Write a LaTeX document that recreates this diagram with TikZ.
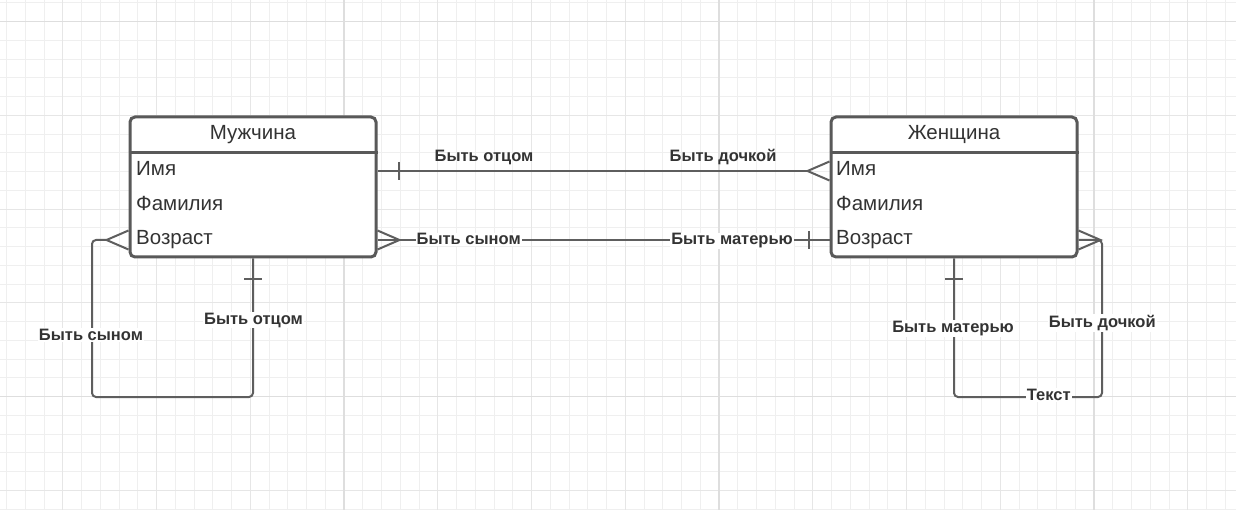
\documentclass[tikz,border=0pt]{standalone}
\usepackage{fontspec}
\setmainfont{Liberation Sans}
\usetikzlibrary{calc}
\definecolor{ln}{HTML}{5E5E5E}
\definecolor{bx}{HTML}{595959}
\definecolor{tx}{HTML}{333333}
\definecolor{gmin}{HTML}{EFEFEF}
\definecolor{gmed}{HTML}{E6E6E6}
\definecolor{gmaj}{HTML}{DEDEDE}
\begin{document}
\begin{tikzpicture}[x=1pt,y=-1pt,
  entity/.style={draw=bx,line width=3pt,rounded corners=5pt,fill=white,minimum width=246pt,minimum height=140pt,inner sep=0pt},
  sepline/.style={draw=bx,line width=3pt},
  title/.style={text=tx,font=\fontsize{20.5}{24}\selectfont,anchor=base,inner sep=0pt},
  row/.style={text=tx,font=\fontsize{20.5}{24}\selectfont,anchor=base west,inner sep=0pt},
  conn/.style={draw=ln,line width=2pt},
  lbl/.style={text=tx,font=\bfseries\fontsize{16.5}{19}\selectfont,anchor=base,inner sep=1pt},
  lblw/.style={lbl,fill=white},
]
\useasboundingbox (0,0) rectangle (1236,510);
\fill[white] (0,0) rectangle (1236,510);
% grid
\foreach \i in {0,...,65} \draw[gmin,line width=1pt] ({6.5+18.75*\i},0) -- ++(0,510);
\foreach \j in {0,...,27} \draw[gmin,line width=1pt] (0,{2.95+18.75*\j}) -- ++(1236,0);
\foreach \i in {0,...,12} \draw[gmed,line width=1pt] ({62.75+93.75*\i},0) -- ++(0,510);
\foreach \j in {0,...,5} \draw[gmed,line width=1pt] (0,{21.7+93.75*\j}) -- ++(1236,0);
\foreach \x in {344,719,1094} \draw[gmaj,line width=1.5pt] (\x,0) -- ++(0,510);
\foreach \y in {21.7,396.7} \draw[gmaj,line width=1.5pt] (0,\y) -- ++(1236,0);

% entities
\node[entity] (m) at (253,187) {};
\node[entity] (w) at (954,187) {};
\draw[sepline] (m.west |- 0,153) -- (m.east |- 0,153);
\draw[sepline] (w.west |- 0,153) -- (w.east |- 0,153);
\node[title] (mt) at (253,140) {Мужчина};
\node[title] (wt) at (954,140) {Женщина};
\node[row] (m1) at (136,176) {Имя};
\node[row] (m2) at (136,210.5) {Фамилия};
\node[row] (m3) at (136,245) {Возраст};
\node[row] (w1) at (836,176) {Имя};
\node[row] (w2) at (836,210.5) {Фамилия};
\node[row] (w3) at (836,245) {Возраст};

% connector 1: father -> daughter
\coordinate (c1a) at (m.east |- 0,171);
\coordinate (c1b) at (w.west |- 0,171);
\draw[conn] (c1a) -- ($(c1b)+(-21,0)$);
\draw[conn] ($(c1a)+(21,-9)$) -- ($(c1a)+(21,9)$);
\draw[conn] ($(c1b)+(0,-9.5)$) -- ($(c1b)+(-22,0)$) -- ($(c1b)+(0,9.5)$);
\node[lbl] (l1a) at (484,161.7) {Быть отцом};
\node[lbl] (l1b) at (723,161.7) {Быть дочкой};

% connector 2: son -> mother
\coordinate (c2a) at (m.east |- 0,240);
\coordinate (c2b) at (w.west |- 0,240);
\draw[conn] (c2a) -- (c2b);
\draw[conn] ($(c2a)+(0,-9.5)$) -- ($(c2a)+(22,0)$) -- ($(c2a)+(0,9.5)$);
\draw[conn] ($(c2b)+(-21,-9)$) -- ($(c2b)+(-21,9)$);
\node[lblw] (l2a) at (468.7,245) {Быть сыном};
\node[lblw] (l2b) at (732,245) {Быть матерью};

% connector 3: Мужчина self loop
\coordinate (c3a) at (m.west |- 0,240);
\coordinate (c3c) at (92,397);
\draw[conn,rounded corners=4pt] ($(c3a)+(-22,0)$) -| (c3c) -| (m.south);
\draw[conn] ($(c3a)+(0,-9.5)$) -- ($(c3a)+(-22,0)$) -- ($(c3a)+(0,9.5)$);
\draw[conn] ($(m.south)+(-9,21)$) -- ($(m.south)+(9,21)$);
\node[lblw] (l3a) at (91,340.7) {Быть сыном};
\node[lblw] (l3b) at (253.5,324) {Быть отцом};

% connector 4: Женщина self loop
\coordinate (c4a) at (w.east |- 0,240);
\coordinate (c4c) at (1102,397);
\draw[conn,rounded corners=4pt] (w.south) |- (c4c) |- (c4a);
\draw[conn] ($(c4a)+(0,-9.5)$) -- ($(c4a)+(22,0)$) -- ($(c4a)+(0,9.5)$);
\draw[conn] ($(w.south)+(-9,21)$) -- ($(w.south)+(9,21)$);
\node[lblw] (l4a) at (953,332.7) {Быть матерью};
\node[lblw] (l4b) at (1102.3,327.7) {Быть дочкой};
\node[lblw] (l4c) at (1048.7,400.7) {Текст};
\end{tikzpicture}
\end{document}
